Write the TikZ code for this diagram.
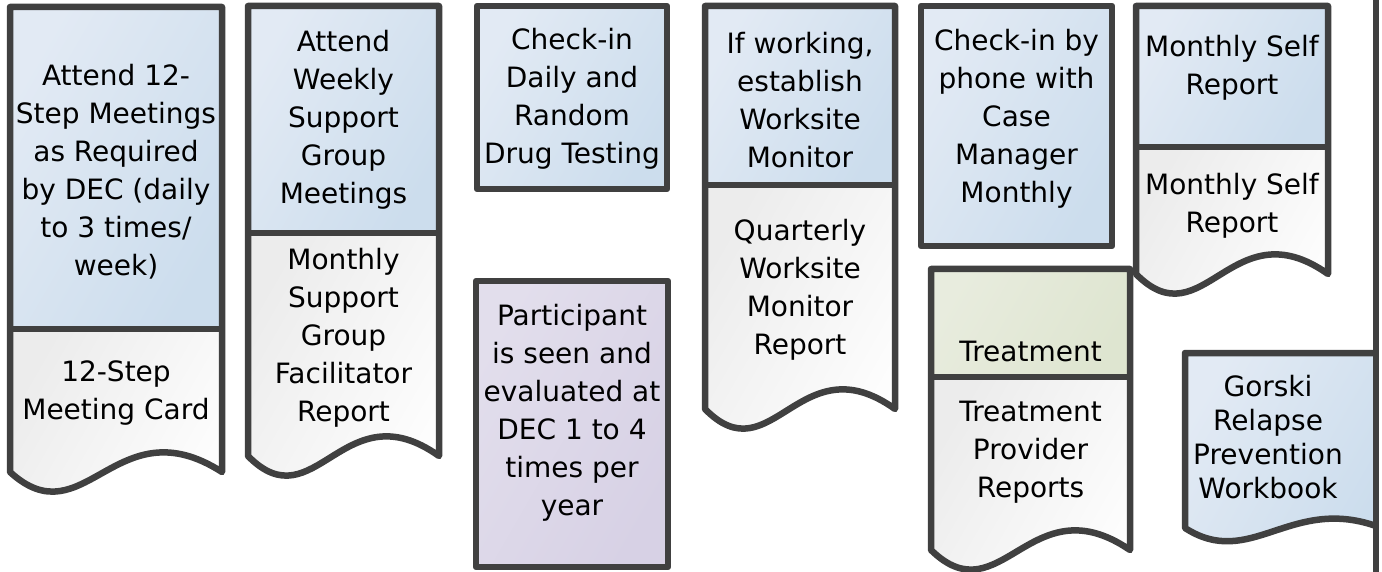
\documentclass[tikz,border=0pt]{standalone}
\usepackage{fontspec}
\setmainfont{DejaVu Sans}
\definecolor{edgec}{RGB}{64,64,64}
\definecolor{blueA}{RGB}{226,234,244}
\definecolor{blueB}{RGB}{204,221,237}
\definecolor{whiteA}{RGB}{236,236,236}
\definecolor{whiteB}{RGB}{254,254,254}
\definecolor{greenA}{RGB}{232,236,222}
\definecolor{greenB}{RGB}{222,229,208}
\definecolor{purpA}{RGB}{226,222,236}
\definecolor{purpB}{RGB}{215,209,229}
\tikzset{
  edge/.style={draw=edgec, line width=6.5pt, line join=round},
  bluesh/.style={left color=blueA, right color=blueB, shading angle=60},
  whitesh/.style={left color=whiteA, right color=whiteB, shading angle=60},
  greensh/.style={left color=greenA, right color=greenB, shading angle=60},
  purpsh/.style={left color=purpA, right color=purpB, shading angle=60},
  txt/.style={align=center, inner sep=0pt, text=black, font=\fontsize{28}{38}\selectfont},
  smalltxt/.style={align=center, inner sep=0pt, text=black, font=\fontsize{28}{34}\selectfont}
}
% #1 L, #2 R, #3 T, #4 divider, #5 wave level, #6 top style, #7 bottom style, #8 amplitude
\newcommand\docpair[8]{%
  \shade[#6] (#1,#3) rectangle (#2,#4);
  \shade[#7] (#1,#4) -- (#2,#4) -- (#2,#5) .. controls ({#1+0.5*(#2-#1)},{#5-#8}) and ({#1+0.35*(#2-#1)},{#5+#8}) .. (#1,#5) -- cycle;
  \draw[edge] (#1,#5) -- (#1,#3) -- (#2,#3) -- (#2,#5) .. controls ({#1+0.5*(#2-#1)},{#5-#8}) and ({#1+0.35*(#2-#1)},{#5+#8}) .. (#1,#5) -- cycle;
  \draw[edge] (#1,#4) -- (#2,#4);
}
\newcommand\plainbox[5]{%
  \shade[#5] (#1,#3) rectangle (#2,#4);
  \draw[edge] (#1,#3) rectangle (#2,#4);
}
\begin{document}
\begin{tikzpicture}[x=1pt,y=-1pt]
\useasboundingbox (0,0) rectangle (1382,572);

% shape 1
\docpair{10}{222}{7}{329}{472}{bluesh}{whitesh}{68}
\node[txt] (s1a) at (116,172) {Attend 12-\\Step Meetings\\as Required\\by DEC (daily\\to 3 times/\\week)};
\node[txt] (s1b) at (116,393) {12-Step\\Meeting Card};

% shape 2
\docpair{248}{439}{6}{233}{456}{bluesh}{whitesh}{68}
\node[txt] (s2a) at (343.5,120) {Attend\\Weekly\\Support\\Group\\Meetings};
\node[txt] (s2b) at (343.5,338) {Monthly\\Support\\Group\\Facilitator\\Report};

% shape 3
\plainbox{477}{667}{6}{189}{bluesh}
\node[txt] (s3) at (572,99) {Check-in\\Daily and\\Random\\Drug Testing};

% shape 4
\plainbox{476}{668}{281}{567}{purpsh}
\node[txt] (s4) at (572,413) {Participant\\is seen and\\evaluated at\\DEC 1 to 4\\times per\\year};

% shape 5
\docpair{705}{895}{6}{185}{409}{bluesh}{whitesh}{68}
\node[txt] (s5a) at (800,100) {If working,\\establish\\Worksite\\Monitor};
\node[txt] (s5b) at (800,290) {Quarterly\\Worksite\\Monitor\\Report};

% shape 6
\plainbox{921}{1112}{6}{246}{bluesh}
\node[txt] (s6) at (1016.5,119) {Check-in by\\phone with\\Case\\Manager\\Monthly};

% shape 7
\docpair{1136}{1328}{6}{147}{274}{bluesh}{whitesh}{68}
\node[txt] (s7a) at (1232,68) {Monthly Self\\Report};
\node[txt] (s7b) at (1232,206) {Monthly Self\\Report};

% shape 8
\docpair{931}{1130}{269}{377}{550}{greensh}{whitesh}{68}
\node[txt] (s8a) at (1030.5,351) {Treatment};
\node[txt] (s8b) at (1030.5,452) {Treatment\\Provider\\Reports};

% shape 9 (Gorski)
\shade[bluesh] (1185,353) -- (1376,353) -- (1376,526) .. controls (1290,496) and (1250,570) .. (1185,528) -- cycle;
\draw[edge] (1376,526) .. controls (1290,496) and (1250,570) .. (1185,528) -- (1185,353) -- (1376,353);
\node[smalltxt] (s9) at (1268,437) {Gorski\\Relapse\\Prevention\\Workbook};

% right edge bar
\draw[edge] (1376,-5) -- (1376,577);
\end{tikzpicture}
\end{document}
